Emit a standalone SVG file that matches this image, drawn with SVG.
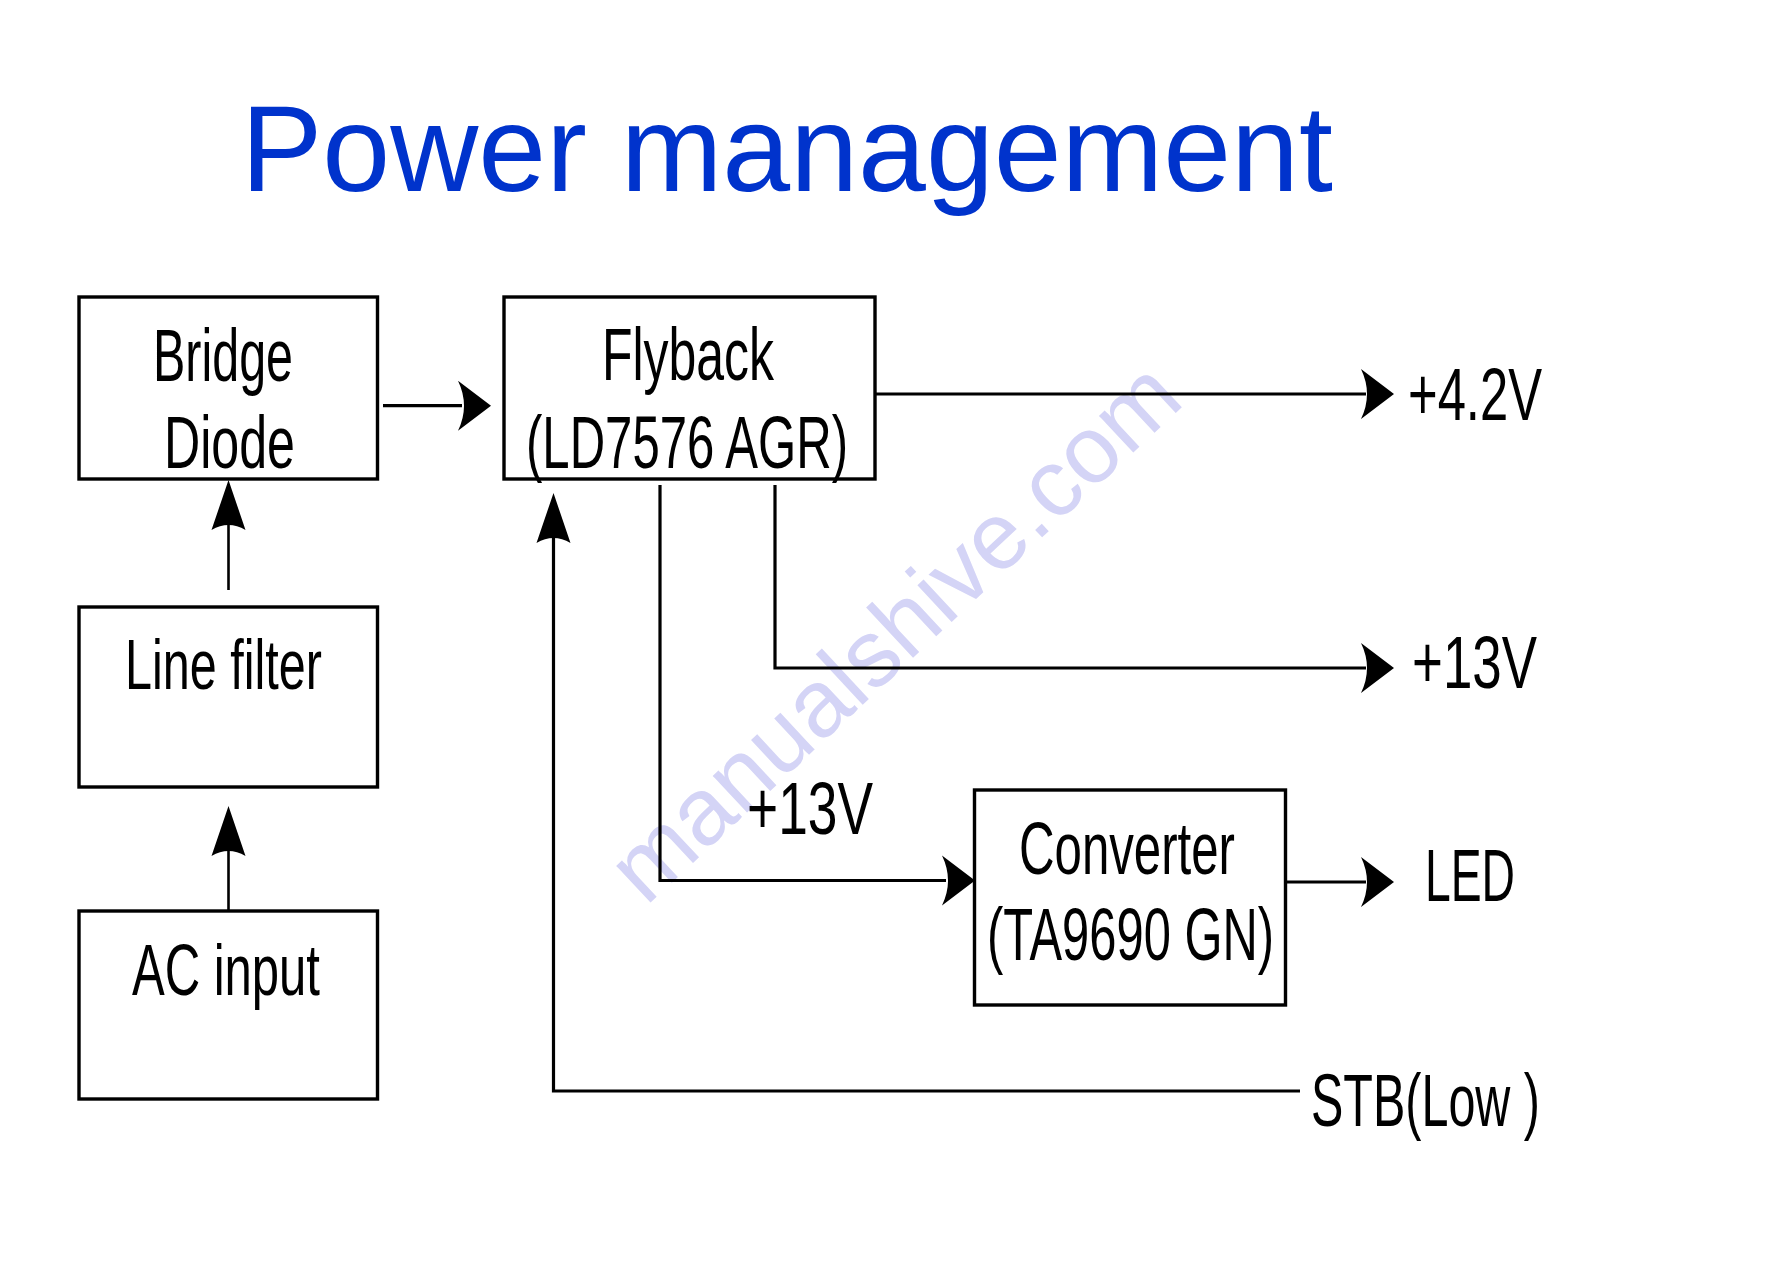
<svg xmlns="http://www.w3.org/2000/svg" xmlns:xlink="http://www.w3.org/1999/xlink" width="1787" height="1263" viewBox="0 0 1787 1263">
<style>
  .box { fill: #ffffff; stroke: #000000; stroke-width: 3.4; }
  .lbl { font-family: "Liberation Sans", Arial, sans-serif; font-size: 75px; fill: #000000; }
  .wire { fill: none; stroke: #000000; stroke-width: 3.2; }
  .thin { fill: none; stroke: #000000; stroke-width: 2.6; }
  .title { font-family: "Liberation Sans", Arial, sans-serif; font-size: 122px; fill: #0033cc; }
  .wm { font-family: "Liberation Sans", Arial, sans-serif; font-size: 95px; fill: #d4d4f6; }
</style>
<defs>
  <path id="ahH" d="M0,0 L-33,-25 Q-21,0 -33,25 Z" fill="#000000"/>
  <path id="ahV" d="M0,0 L-17,50 Q0,40 17,50 Z" fill="#000000"/>
</defs>
<rect x="0" y="0" width="1787" height="1263" fill="#ffffff"/>

<text class="wm" x="916" y="655" text-anchor="middle" transform="rotate(-43 916 655)">manualshive.com</text>

<text class="title" x="241" y="191">Power management</text>

<g id="connectors">
  <line class="wire" x1="383" y1="405.7" x2="462" y2="405.7"/>
  <use xlink:href="#ahH" x="491" y="405.7"/>

  <line class="thin" x1="228.5" y1="590" x2="228.5" y2="525"/>
  <use xlink:href="#ahV" x="228.5" y="480"/>

  <line class="thin" x1="228.5" y1="912" x2="228.5" y2="850"/>
  <use xlink:href="#ahV" x="228.5" y="806"/>

  <line class="wire" x1="875" y1="394" x2="1366" y2="394"/>
  <use xlink:href="#ahH" x="1394" y="394"/>

  <polyline class="wire" points="775,485 775,668 1366,668"/>
  <use xlink:href="#ahH" x="1394" y="668"/>

  <polyline class="wire" points="660,485 660,880.5 946,880.5"/>
  <use xlink:href="#ahH" x="975" y="880.5"/>

  <line class="wire" x1="1286" y1="882" x2="1366" y2="882"/>
  <use xlink:href="#ahH" x="1394" y="882"/>

  <polyline class="wire" points="1300,1091 553.5,1091 553.5,538"/>
  <use xlink:href="#ahV" x="553.5" y="493"/>
</g>

<g id="bridge-diode">
  <rect class="box" x="79" y="297" width="298.5" height="182"/>
  <text class="lbl" x="153" y="380.5" textLength="140" lengthAdjust="spacingAndGlyphs">Bridge</text>
  <text class="lbl" x="164" y="468" textLength="131" lengthAdjust="spacingAndGlyphs">Diode</text>
</g>

<g id="line-filter">
  <rect class="box" x="79" y="607" width="298.5" height="180"/>
  <text class="lbl" x="125" y="689" textLength="197" lengthAdjust="spacingAndGlyphs" style="font-size:71px">Line filter</text>
</g>

<g id="ac-input">
  <rect class="box" x="79" y="911" width="298.5" height="188"/>
  <text class="lbl" x="132" y="995" textLength="188" lengthAdjust="spacingAndGlyphs" style="font-size:73px">AC input</text>
</g>

<g id="flyback">
  <rect class="box" x="504" y="297" width="371" height="182"/>
  <text class="lbl" x="602" y="380" textLength="172" lengthAdjust="spacingAndGlyphs">Flyback</text>
  <text class="lbl" x="526" y="468" textLength="322" lengthAdjust="spacingAndGlyphs">(LD7576 AGR)</text>
</g>

<g id="converter">
  <rect class="box" x="974.5" y="790" width="311" height="215"/>
  <text class="lbl" x="1019" y="874" textLength="216" lengthAdjust="spacingAndGlyphs">Converter</text>
  <text class="lbl" x="987" y="960" textLength="287" lengthAdjust="spacingAndGlyphs">(TA9690 GN)</text>
</g>

<g id="out-4v2">
  <text class="lbl" x="1408" y="420" textLength="134" lengthAdjust="spacingAndGlyphs">+4.2V</text>
</g>
<g id="out-13v">
  <text class="lbl" x="1412" y="688" textLength="125" lengthAdjust="spacingAndGlyphs">+13V</text>
</g>
<g id="label-13v-mid">
  <text class="lbl" x="747" y="834" textLength="126" lengthAdjust="spacingAndGlyphs">+13V</text>
</g>
<g id="out-led">
  <text class="lbl" x="1425" y="901" textLength="90" lengthAdjust="spacingAndGlyphs">LED</text>
</g>
<g id="in-stb">
  <text class="lbl" x="1311" y="1126" textLength="229" lengthAdjust="spacingAndGlyphs">STB(Low )</text>
</g>
</svg>
